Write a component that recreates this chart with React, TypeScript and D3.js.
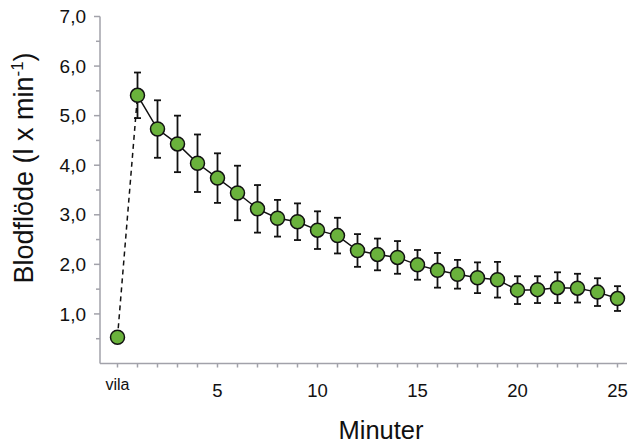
import React, { useEffect, useRef } from 'react';
import * as d3 from 'd3';

// minutes after exercise, 0 = "vila" (rest)
const minutes = [0, 1, 2, 3, 4, 5, 6, 7, 8, 9, 10, 11, 12, 13, 14, 15, 16, 17, 18, 19, 20, 21, 22, 23, 24, 25];
const flow = [0.53, 5.41, 4.73, 4.43, 4.04, 3.74, 3.44, 3.12, 2.93, 2.86, 2.69, 2.58, 2.28, 2.2, 2.14, 1.99, 1.88, 1.8, 1.73, 1.69, 1.48, 1.49, 1.53, 1.52, 1.44, 1.31];
const flowErr = [0, 0.46, 0.58, 0.57, 0.58, 0.5, 0.55, 0.48, 0.37, 0.37, 0.38, 0.36, 0.33, 0.32, 0.33, 0.3, 0.35, 0.29, 0.31, 0.36, 0.28, 0.27, 0.31, 0.29, 0.28, 0.25];
const yTicks = [1, 2, 3, 4, 5, 6, 7];
const yMinor = [0.5, 1.5, 2.5, 3.5, 4.5, 5.5, 6.5];
const xLabels = [5, 10, 15, 20, 25];

const App = () => {
  const ref = useRef<SVGSVGElement>(null);

  useEffect(() => {
    const svg = d3.select(ref.current);
    svg.selectAll('*').remove();

    const font = 'Liberation Sans, Arial, sans-serif';
    const axisColor = '#a2a2aa';

    const x = d3.scaleLinear().domain([0, 25]).range([117.5, 617.5]);
    const y = d3.scaleLinear().domain([0, 7]).range([363.5, 16.5]);
    const x0 = 100;
    const xEnd = 627;

    const data = minutes.map((m, i) => ({ m, v: flow[i], e: flowErr[i] }));

    // Y axis
    const ya = svg.append('g');
    ya.append('line')
      .attr('x1', x0).attr('x2', x0)
      .attr('y1', y(7)).attr('y2', y(0))
      .attr('stroke', axisColor).attr('stroke-width', 1.5);
    ya.selectAll('.maj').data(yTicks).enter().append('line')
      .attr('x1', x0 - 6).attr('x2', x0)
      .attr('y1', d => y(d)).attr('y2', d => y(d))
      .attr('stroke', axisColor).attr('stroke-width', 1.5);
    ya.selectAll('.min').data(yMinor).enter().append('line')
      .attr('x1', x0 - 4).attr('x2', x0)
      .attr('y1', d => y(d)).attr('y2', d => y(d))
      .attr('stroke', axisColor).attr('stroke-width', 1.5);
    ya.selectAll('text').data(yTicks).enter().append('text')
      .attr('x', 86).attr('y', d => y(d))
      .attr('dy', '0.35em')
      .attr('text-anchor', 'end')
      .style('font-family', font).style('font-size', '19px').style('fill', '#111')
      .text(d => d.toFixed(1).replace('.', ','));

    // X axis
    const xa = svg.append('g');
    xa.append('line')
      .attr('x1', x0).attr('x2', xEnd)
      .attr('y1', y(0)).attr('y2', y(0))
      .attr('stroke', axisColor).attr('stroke-width', 1.5);
    xa.selectAll('.tk').data(minutes).enter().append('line')
      .attr('x1', d => x(d)).attr('x2', d => x(d))
      .attr('y1', y(0)).attr('y2', y(0) + 4)
      .attr('stroke', axisColor).attr('stroke-width', 1.5);
    xa.selectAll('.lbl').data(xLabels).enter().append('text')
      .attr('x', d => x(d)).attr('y', 396.5)
      .attr('text-anchor', 'middle')
      .style('font-family', font).style('font-size', '18.5px').style('fill', '#111')
      .text(d => d);
    xa.append('text')
      .attr('x', x(0)).attr('y', 390)
      .attr('text-anchor', 'middle')
      .style('font-family', font).style('font-size', '16px').style('fill', '#111')
      .text('vila');

    // titles
    svg.append('text')
      .attr('x', 381).attr('y', 439)
      .attr('text-anchor', 'middle')
      .style('font-family', font).style('font-size', '25.5px').style('fill', '#111')
      .text('Minuter');
    const yt = svg.append('text')
      .attr('transform', 'translate(33,168) rotate(-90)')
      .attr('text-anchor', 'middle')
      .style('font-family', font).style('font-size', '27px').style('fill', '#111');
    yt.append('tspan').text('Blodflöde (l x min');
    yt.append('tspan').attr('dy', -10).style('font-size', '17px').text('-1');
    yt.append('tspan').attr('dy', 10).text(')');

    // dashed line from rest to first minute
    const line = d3.line<{ m: number; v: number }>().x(d => x(d.m)).y(d => y(d.v));
    svg.append('path')
      .datum(data.slice(0, 2))
      .attr('d', line)
      .attr('fill', 'none').attr('stroke', '#111')
      .attr('stroke-width', 1.5).attr('stroke-dasharray', '5,4');
    svg.append('path')
      .datum(data.slice(1))
      .attr('d', line)
      .attr('fill', 'none').attr('stroke', '#111').attr('stroke-width', 1.5);

    // error bars
    const eb = svg.selectAll('.err').data(data.filter(d => d.e > 0)).enter().append('g');
    eb.append('line')
      .attr('x1', d => x(d.m)).attr('x2', d => x(d.m))
      .attr('y1', d => y(d.v + d.e)).attr('y2', d => y(d.v - d.e))
      .attr('stroke', '#111').attr('stroke-width', 1.8);
    eb.append('line')
      .attr('x1', d => x(d.m) - 3.5).attr('x2', d => x(d.m) + 3.5)
      .attr('y1', d => y(d.v + d.e)).attr('y2', d => y(d.v + d.e))
      .attr('stroke', '#111').attr('stroke-width', 1.8);
    eb.append('line')
      .attr('x1', d => x(d.m) - 3.5).attr('x2', d => x(d.m) + 3.5)
      .attr('y1', d => y(d.v - d.e)).attr('y2', d => y(d.v - d.e))
      .attr('stroke', '#111').attr('stroke-width', 1.8);

    // markers
    svg.selectAll('.pt').data(data).enter().append('circle')
      .attr('cx', d => x(d.m)).attr('cy', d => y(d.v))
      .attr('r', 7)
      .attr('fill', '#6ab23c').attr('stroke', '#111').attr('stroke-width', 1.5);
  }, []);

  return <svg ref={ref} width={631} height={445} style={{ position: 'absolute', left: 0, top: 0 }}></svg>;
};

export default App;
